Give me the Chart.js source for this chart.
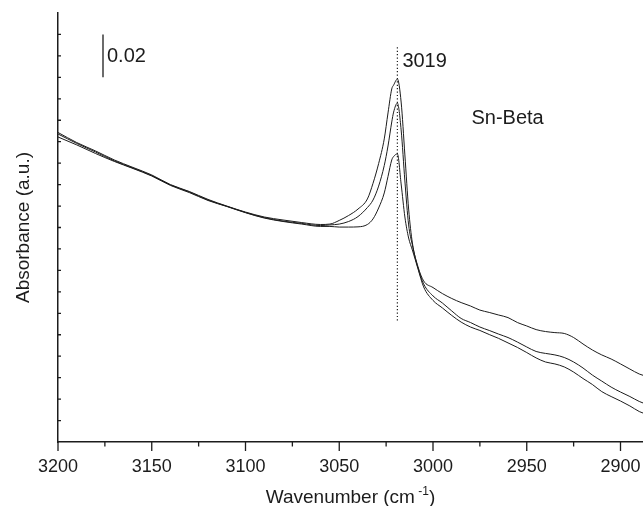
<!DOCTYPE html>
<html><head><meta charset="utf-8">
<script src="https://cdn.jsdelivr.net/npm/chart.js@4/dist/chart.umd.min.js"></script>
<style>html,body{margin:0;padding:0;background:#fff;}canvas{display:block}</style>
</head><body>
<canvas id="c" width="643" height="506"></canvas>
<script>
// ---- data ----
const wavenumbers = [3200,3190,3180,3170,3160,3150,3140,3130,3120,3110,3100,3090,3080,3070,3060,
  3055,3050,3045,3040,3035,3032,3029,3026,3024,3022,3021,3019,3017,3015,3013,3011,3008,3005,
  3000,2995,2990,2985,2980,2975,2970,2965,2960,2955,2950,2945,2940,2935,2930,2925,2920,2915,2910,2905,2900,2895,2890,2888];
const spectrumHigh = [0.1443,0.1396,0.1357,0.1315,0.1280,0.1245,0.1200,0.1168,0.1131,0.1100,0.1072,0.1049,0.1035,0.1023,0.1014,
  0.1016,0.1033,0.1056,0.1086,0.1133,0.1206,0.1298,0.1413,0.1534,0.1646,0.1664,0.1692,0.1585,0.1338,0.1086,0.0928,0.0817,0.0751,
  0.0720,0.0692,0.0669,0.0650,0.0634,0.0615,0.0604,0.0592,0.0580,0.0557,0.0541,0.0524,0.0515,0.0510,0.0506,0.0487,0.0457,0.0429,0.0406,0.0387,0.0364,0.0340,0.0317,0.0311];
const spectrumMid = [0.1436,0.1392,0.1352,0.1311,0.1277,0.1242,0.1198,0.1166,0.1128,0.1099,0.1070,0.1046,0.1030,0.1019,0.1009,
  0.1012,0.1016,0.1028,0.1051,0.1093,0.1128,0.1193,0.1289,0.1380,0.1492,0.1538,0.1580,0.1455,0.1217,0.1012,0.0918,0.0811,0.0737,
  0.0681,0.0648,0.0611,0.0576,0.0557,0.0536,0.0520,0.0503,0.0487,0.0466,0.0443,0.0422,0.0413,0.0406,0.0394,0.0373,0.0345,0.0312,0.0284,0.0256,0.0233,0.0212,0.0189,0.0182];
const spectrumLow = [0.1422,0.1385,0.1345,0.1308,0.1275,0.1240,0.1196,0.1163,0.1126,0.1098,0.1069,0.1044,0.1028,0.1016,0.1005,
  0.1005,0.1002,0.1002,0.1003,0.1014,0.1040,0.1091,0.1161,0.1238,0.1315,0.1331,0.1343,0.1203,0.1049,0.0951,0.0895,0.0807,0.0723,
  0.0660,0.0625,0.0590,0.0559,0.0536,0.0520,0.0501,0.0483,0.0462,0.0441,0.0417,0.0392,0.0373,0.0364,0.0350,0.0326,0.0296,0.0268,0.0235,0.0212,0.0191,0.0168,0.0142,0.0135];
const xTickLabels = [3200,3150,3100,3050,3000,2950,2900];
const xMinorTicks = [3175,3125,3075,3025,2975,2925];
const yMinorTicks = [0.01,0.02,0.03,0.04,0.05,0.06,0.07,0.08,0.09,0.10,0.11,0.12,0.13,0.14,0.15,0.16,0.17,0.18,0.19];
const scaleBarText = '0.02';
const scaleBarX = 3176, scaleBarFrom = 0.17, scaleBarTo = 0.19;
const peakText = '3019';
const peakX = 3019, peakLineFrom = 0.056, peakLineTo = 0.184;
const sampleText = 'Sn-Beta';

const FONT = "'Liberation Sans', Arial, Helvetica, sans-serif";
const INK = '#1c1c1c';
Chart.defaults.font.family = FONT;
Chart.defaults.color = INK;

const toPts = arr => wavenumbers.map((w,i)=>({x:w,y:arr[i]}));
const lineStyle = {borderColor:INK, borderWidth:1, pointRadius:0, fill:false, cubicInterpolationMode:'monotone'};

const decor = {
  id:'decor',
  afterDraw(chart){
    const {ctx, scales:{x,y}, chartArea:ca} = chart;
    ctx.save();
    ctx.strokeStyle = INK; ctx.fillStyle = INK;
    // x ticks (outside)
    ctx.lineWidth = 1.3;
    ctx.beginPath();
    xTickLabels.forEach(v=>{const p=x.getPixelForValue(v); ctx.moveTo(p,ca.bottom); ctx.lineTo(p,ca.bottom+9);});
    xMinorTicks.forEach(v=>{const p=x.getPixelForValue(v); ctx.moveTo(p,ca.bottom); ctx.lineTo(p,ca.bottom+4.5);});
    // y ticks (inside)
    yMinorTicks.forEach(v=>{const p=y.getPixelForValue(v); ctx.moveTo(ca.left,p); ctx.lineTo(ca.left+3,p);});
    ctx.stroke();
    // scale bar
    ctx.lineWidth = 1.3;
    ctx.beginPath();
    const sx = x.getPixelForValue(scaleBarX);
    ctx.moveTo(sx, y.getPixelForValue(scaleBarFrom)); ctx.lineTo(sx, y.getPixelForValue(scaleBarTo));
    ctx.stroke();
    ctx.font = '20px ' + FONT; ctx.textBaseline = 'middle'; ctx.textAlign = 'left';
    ctx.fillText(scaleBarText, sx+4, y.getPixelForValue(0.1795));
    // dotted peak line
    ctx.lineWidth = 1.2;
    ctx.setLineDash([1.2,2.2]);
    ctx.beginPath();
    const px = x.getPixelForValue(peakX);
    ctx.moveTo(px, y.getPixelForValue(peakLineTo)); ctx.lineTo(px, y.getPixelForValue(peakLineFrom));
    ctx.stroke();
    ctx.setLineDash([]);
    ctx.fillText(peakText, px+5, y.getPixelForValue(0.1773));
    ctx.fillText(sampleText, x.getPixelForValue(2979.5), y.getPixelForValue(0.151));
    // x title with superscript
    const cx = (ca.left+ca.right)/2;
    const base = 503;
    const f1 = '19px ' + FONT, f2 = '12px ' + FONT;
    ctx.textBaseline = 'alphabetic';
    ctx.font = f1; const wA = ctx.measureText('Wavenumber (cm').width; const wC = ctx.measureText(')').width;
    ctx.font = f2; const wB = ctx.measureText(' -1').width;
    let sx0 = cx - (wA+wB+wC)/2;
    ctx.font = f1; ctx.fillText('Wavenumber (cm', sx0, base);
    ctx.font = f2; ctx.fillText(' -1', sx0+wA, base-8);
    ctx.font = f1; ctx.fillText(')', sx0+wA+wB, base);
    ctx.restore();
  }
};

new Chart(document.getElementById('c'), {
  type:'line',
  data:{datasets:[
    {data:toPts(spectrumHigh), ...lineStyle},
    {data:toPts(spectrumMid), ...lineStyle},
    {data:toPts(spectrumLow), ...lineStyle}
  ]},
  options:{
    responsive:false, animation:false, events:[],
    layout:{padding:{top:13,right:0,left:0,bottom:0}},
    plugins:{legend:{display:false}, tooltip:{enabled:false}},
    scales:{
      x:{type:'linear', reverse:true, min:2888, max:3200,
        grid:{display:true, drawOnChartArea:false, drawTicks:false},
        border:{display:true, color:INK, width:1.5},
        afterBuildTicks:s=>{s.ticks = xTickLabels.map(v=>({value:v}));},
        afterFit:s=>{s.height = 64; s.paddingLeft = 0; s.paddingRight = 0;},
        ticks:{padding:14, maxRotation:0, autoSkip:false, color:INK, font:{size:18}, callback:v=>String(v)}
      },
      y:{type:'linear', min:0, max:0.2,
        grid:{display:true, drawOnChartArea:false, drawTicks:false},
        border:{display:true, color:INK, width:1.5},
        ticks:{display:false},
        afterFit:s=>{s.width = 58;},
        title:{display:true, text:'Absorbance (a.u.)', color:INK, font:{size:19}, padding:{top:12.5,bottom:0}}
      }
    }
  },
  plugins:[decor]
});
</script>
</body></html>
